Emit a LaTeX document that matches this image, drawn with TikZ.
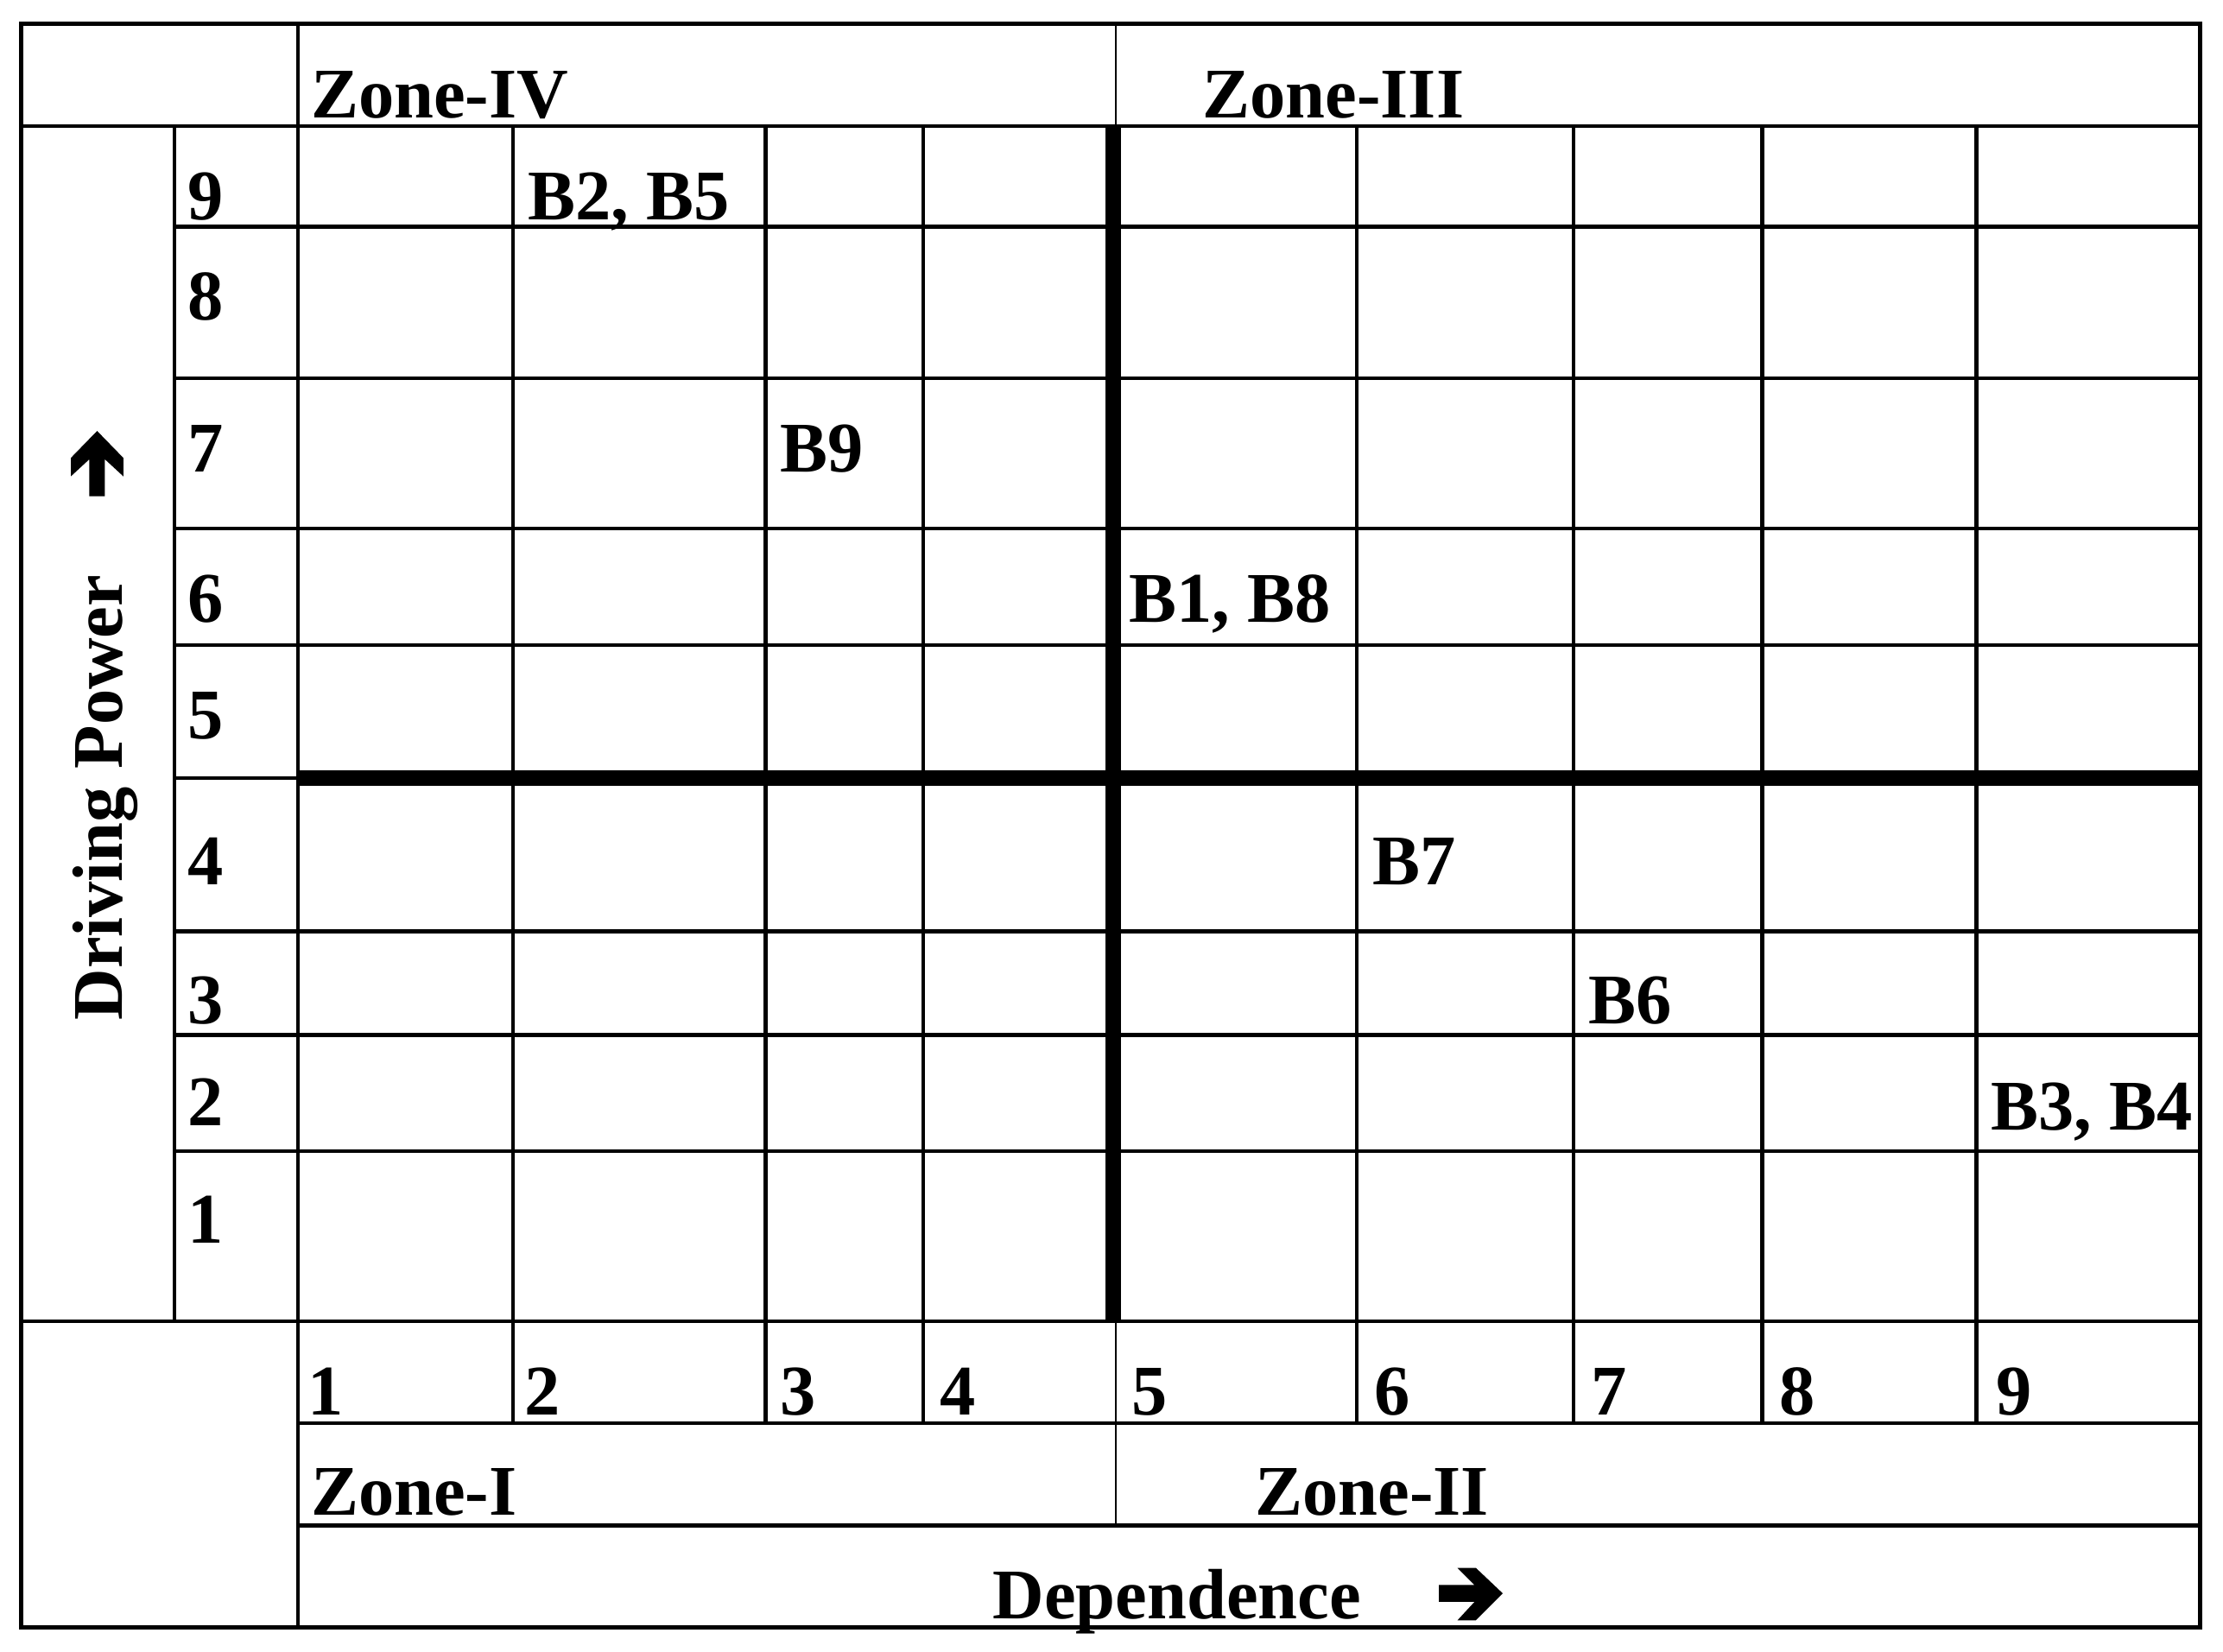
\documentclass[tikz,border=0pt]{standalone}
\usepackage{fontspec}
\setmainfont{Liberation Serif}
\tikzset{lbl/.style={anchor=base west, inner sep=0pt, font=\fontsize{14.3}{17}\selectfont\bfseries}}

\begin{document}
\begin{tikzpicture}[x=0.1mm, y=-0.1mm, line width=0.75pt]
\useasboundingbox (0,0) rectangle (1568,1165);
% frame and outer cells
\draw [line width=0.85pt] (15,17) rectangle (1552,1148);
\draw (15,89) -- (1552,89);
\draw (15,932) -- (1552,932);
\draw (210,17) -- (210,1148);
\draw (123,89) -- (123,932);
\draw (210,1004) -- (1552,1004);
\draw (210,1076) -- (1552,1076);
\draw [line width=0.4pt] (787,17) -- (787,89);
\draw [line width=0.4pt] (787,932) -- (787,1076);
% grid
\foreach \y in {160,267,373,455,549,657,730,812} {
    \draw (123,\y) -- (1552,\y);
}
\foreach \x in {362,540,651,957,1110,1243,1394} {
    \draw (\x,89) -- (\x,1004);
}
% quadrant borders
\draw [line width=3.1pt] (785,89) -- (785,932);
\draw [line width=3.1pt] (210,549) -- (1552,549);
% driving power scale
\foreach \n/\y in {9/155,8/226,7/333,6/439,5/521,4/624,3/722,2/794,1/877} {
    \node[lbl] (dp\n) at (131,\y) {\n};
}
% dependence scale
\foreach \n/\x in {1/216,2/369,3/549,4/662,5/797,6/968,7/1121,8/1254,9/1407} {
    \node[lbl] (dep\n) at (\x,998) {\n};
}
% zones
\node[lbl] (zoneIV) at (218,83) {Zone-IV};
\node[lbl] (zoneIII) at (847,83) {Zone-III};
\node[lbl] (zoneI) at (218,1069) {Zone-I};
\node[lbl] (zoneII) at (884,1069) {Zone-II};
% barriers
\node[lbl] (b25) at (371,155) {B2, B5};
\node[lbl] (b9) at (549,333) {B9};
\node[lbl] (b18) at (795,439) {B1, B8};
\node[lbl] (b7) at (967,624) {B7};
\node[lbl] (b6) at (1119,722) {B6};
\node[lbl] (b34) at (1403,797) {B3, B4};
% axis titles
\node[lbl] (dependence) at (699,1142) {Dependence};
\node[lbl, rotate=90] (drivingpower) at (86,721) {Driving Power};
\fill (1015,1118) -- (1040,1118) -- (1028,1106) -- (1041,1106) -- (1060,1124) -- (1041,1143) -- (1028,1143) -- (1040,1130) -- (1015,1130) -- cycle;
\fill (63,350) -- (63,324) -- (50,336) -- (50,323) -- (68.5,304) -- (87,323) -- (87,336) -- (74,324) -- (74,350) -- cycle;
\end{tikzpicture}
\end{document}
